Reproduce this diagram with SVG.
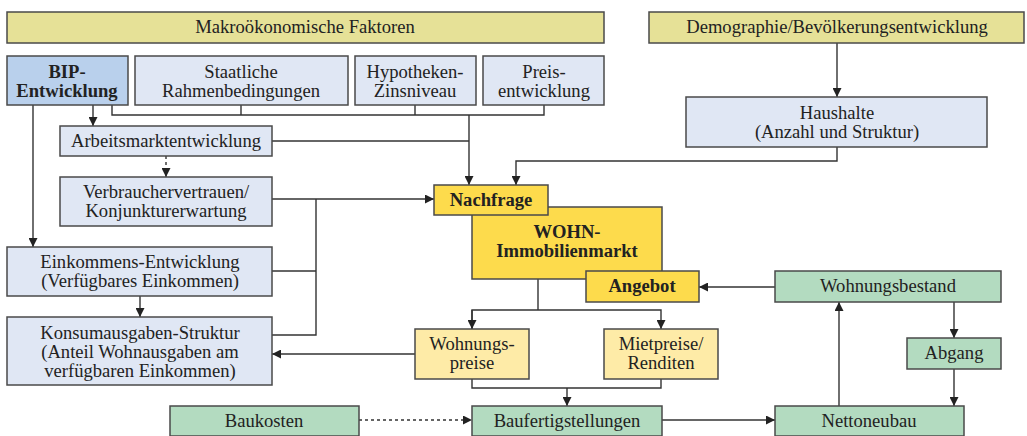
<svg xmlns="http://www.w3.org/2000/svg" width="1027" height="436" viewBox="0 0 1027 436">
<style>
.b{stroke:#4a4a4a;stroke-width:1.5}
.k{fill:#e6e197}
.bl{fill:#e0e7f4}
.bip{fill:#b9d0ec}
.y{fill:#fddb4c}
.ly{fill:#feeba7}
.g{fill:#b3dbc0}
text{font-family:'Liberation Serif','Times New Roman',serif;font-size:18.6px;fill:#222;text-anchor:middle}
.bd{font-weight:bold}
.c{fill:none;stroke:#333;stroke-width:1.4}
.d{stroke-dasharray:3 3}
</style>
<defs>
<marker id="a" viewBox="0 0 10 10" refX="10" refY="5" markerWidth="9" markerHeight="9" markerUnits="userSpaceOnUse" orient="auto">
<path d="M0,0 L10,5 L0,10 z" fill="#222"/>
</marker>
</defs>
<g id="connectors">
<path class="c" d="M112,105 V115 H544 V105"/>
<path class="c" d="M241,105 V115"/>
<path class="c" d="M415,105 V115"/>
<path class="c" d="M469,115 V185" marker-end="url(#a)"/>
<path class="c" d="M272,141 H469"/>
<path class="c" d="M93,105 V126" marker-end="url(#a)"/>
<path class="c" d="M33,105 V247" marker-end="url(#a)"/>
<path class="c d" d="M166,156 V177" marker-end="url(#a)"/>
<path class="c" d="M837,43 V97" marker-end="url(#a)"/>
<path class="c" d="M837,147 V161 H516 V185" marker-end="url(#a)"/>
<path class="c" d="M272,199 H434" marker-end="url(#a)"/>
<path class="c" d="M316,199 V335 H272"/>
<path class="c" d="M272,271 H316"/>
<path class="c" d="M140,296 V317" marker-end="url(#a)"/>
<path class="c" d="M415,354 H272" marker-end="url(#a)"/>
<path class="c" d="M538,279 V310"/>
<path class="c" d="M472,329 V310 H661 V329" marker-end="url(#a)"/>
<path class="c" d="M472,310 V329" marker-end="url(#a)"/>
<path class="c" d="M472,379 V388 H661 V379"/>
<path class="c" d="M567,388 V406" marker-end="url(#a)"/>
<path class="c d" d="M359,420 H472" marker-end="url(#a)"/>
<path class="c" d="M662,420 H775" marker-end="url(#a)"/>
<path class="c" d="M775,287 H699" marker-end="url(#a)"/>
<path class="c" d="M954,302 V338" marker-end="url(#a)"/>
<path class="c" d="M954,369 V406" marker-end="url(#a)"/>
<path class="c" d="M839,406 V302" marker-end="url(#a)"/>
</g>
<g font-family="Liberation Serif, serif">
<g id="makro"><rect class="b k" x="7" y="12" width="597" height="31"/><text x="305" y="33">Makroökonomische Faktoren</text></g>
<g id="demographie"><rect class="b k" x="649" y="12" width="375" height="31"/><text x="837" y="33">Demographie/Bevölkerungsentwicklung</text></g>
<g id="bip"><rect class="b bip" x="7" y="56" width="121" height="49"/><text class="bd" x="67" y="78">BIP-</text><text class="bd" x="67" y="97">Entwicklung</text></g>
<g id="staatliche"><rect class="b bl" x="135" y="56" width="213" height="49"/><text x="241" y="78">Staatliche</text><text x="241" y="97">Rahmenbedingungen</text></g>
<g id="hypotheken"><rect class="b bl" x="355" y="56" width="121" height="49"/><text x="415" y="78">Hypotheken-</text><text x="415" y="97">Zinsniveau</text></g>
<g id="preis"><rect class="b bl" x="483" y="56" width="121" height="49"/><text x="544" y="78">Preis-</text><text x="544" y="97">entwicklung</text></g>
<g id="haushalte"><rect class="b bl" x="686" y="97" width="301" height="50"/><text x="837" y="119">Haushalte</text><text x="837" y="138">(Anzahl und Struktur)</text></g>
<g id="arbeitsmarkt"><rect class="b bl" x="60" y="126" width="212" height="30"/><text x="166" y="147">Arbeitsmarktentwicklung</text></g>
<g id="verbraucher"><rect class="b bl" x="60" y="177" width="212" height="49"/><text x="166" y="198">Verbrauchervertrauen/</text><text x="166" y="217">Konjunkturerwartung</text></g>
<g id="einkommen"><rect class="b bl" x="7" y="247" width="265" height="49"/><text x="140" y="268">Einkommens-Entwicklung</text><text x="140" y="287">(Verfügbares Einkommen)</text></g>
<g id="konsum"><rect class="b bl" x="7" y="317" width="265" height="68"/><text x="140" y="339">Konsumausgaben-Struktur</text><text x="140" y="358">(Anteil Wohnausgaben am</text><text x="140" y="377">verfügbaren Einkommen)</text></g>
<g id="wohnmarkt"><rect class="b y" x="472" y="207" width="190" height="72"/><text class="bd" x="567" y="238">WOHN-</text><text class="bd" x="567" y="257">Immobilienmarkt</text></g>
<g id="nachfrage"><rect class="b y" x="434" y="185" width="114" height="30"/><text class="bd" x="491" y="206">Nachfrage</text></g>
<g id="angebot"><rect class="b y" x="586" y="271" width="113" height="31"/><text class="bd" x="642" y="292">Angebot</text></g>
<g id="wohnungsbestand"><rect class="b g" x="775" y="271" width="226" height="31"/><text x="888" y="292">Wohnungsbestand</text></g>
<g id="wohnungspreise"><rect class="b ly" x="415" y="329" width="114" height="50"/><text x="472" y="350">Wohnungs-</text><text x="472" y="369">preise</text></g>
<g id="mietpreise"><rect class="b ly" x="604" y="329" width="114" height="50"/><text x="661" y="350">Mietpreise/</text><text x="661" y="369">Renditen</text></g>
<g id="abgang"><rect class="b g" x="907" y="338" width="94" height="31"/><text x="954" y="359">Abgang</text></g>
<g id="baukosten"><rect class="b g" x="170" y="406" width="189" height="30"/><text x="264" y="427">Baukosten</text></g>
<g id="baufertig"><rect class="b g" x="472" y="406" width="190" height="30"/><text x="567" y="427">Baufertigstellungen</text></g>
<g id="nettoneubau"><rect class="b g" x="775" y="406" width="189" height="30"/><text x="869" y="427">Nettoneubau</text></g>
</g>
</svg>
